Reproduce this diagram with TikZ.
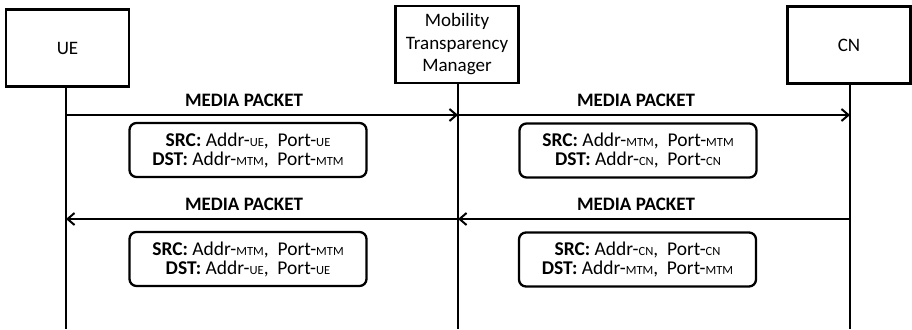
\documentclass[tikz,border=0pt]{standalone}
\usepackage{fontspec}
\setmainfont{Carlito}
\usetikzlibrary{arrows.meta}

% small-capital style tags after Addr-/Port-
\newcommand{\tagsc}[1]{{\fontsize{12.5}{14}\selectfont #1}}
\newcommand{\srcdst}[2]{\textbf{SRC:} Addr-\tagsc{#1}, \ Port-\tagsc{#1}\\\textbf{DST:} Addr-\tagsc{#2}, \ Port-\tagsc{#2}}

\begin{document}
\begin{tikzpicture}[x=1pt,y=-1pt,
  entity/.style={draw,line width=2.5pt,minimum width=123pt,minimum height=77pt,
    inner sep=0pt,font=\fontsize{19}{22.5}\selectfont,align=center},
  lifeline/.style={line width=2.5pt},
  msg/.style={line width=2.5pt,-{Straight Barb[length=7pt,width=12pt,line width=2pt]}},
  msglabel/.style={font=\fontsize{19}{21}\selectfont\bfseries,anchor=base},
  addrbox/.style={draw,line width=2.3pt,rounded corners=7pt,minimum width=237pt,
    minimum height=54pt,inner sep=2pt,align=center,font=\fontsize{19.5}{19}\selectfont}]
\useasboundingbox (0,0) rectangle (912,329);

% participants
\node[entity] (ue)  at (67.5,48)  {UE};
\node[entity] (mtm) at (457,44.5) {Mobility\\Transparency\\Manager};
\node[entity] (cn)  at (849,45)   {CN};

% lifeline ends
\coordinate (ueend)  at (66,329);
\coordinate (mtmend) at (458,329);
\coordinate (cnend)  at (850,329);
\draw[lifeline] (ue.south -| ueend) -- (ueend);
\draw[lifeline] (mtm.south -| mtmend) -- (mtmend);
\draw[lifeline] (cn.south -| cnend) -- (cnend);

% message anchors on the lifelines
\coordinate (a1) at (66,115);
\coordinate (b1) at (458,115);
\coordinate (c1) at (850,115);
\coordinate (a2) at (66,219);
\coordinate (b2) at (458,219);
\coordinate (c2) at (850,219);

% forward direction
\draw[msg] (a1) -- (b1);
\draw[msg] (b1) -- (c1);
% return direction
\draw[msg] (c2) -- (b2);
\draw[msg] (b2) -- (a2);

% message labels, set over the address boxes
\node[msglabel] (l1) at (244,106) {MEDIA PACKET};
\node[msglabel] (l2) at (636,106) {MEDIA PACKET};
\node[msglabel] (l3) at (244,210) {MEDIA PACKET};
\node[msglabel] (l4) at (636,210) {MEDIA PACKET};

% address boxes
\node[addrbox] (h1) at (248,150)   {\srcdst{UE}{MTM}};
\node[addrbox] (h2) at (638,150.5) {\srcdst{MTM}{CN}};
\node[addrbox] (h3) at (248,259)   {\srcdst{MTM}{UE}};
\node[addrbox] (h4) at (637.5,259.5) {\srcdst{CN}{MTM}};
\end{tikzpicture}
\end{document}
